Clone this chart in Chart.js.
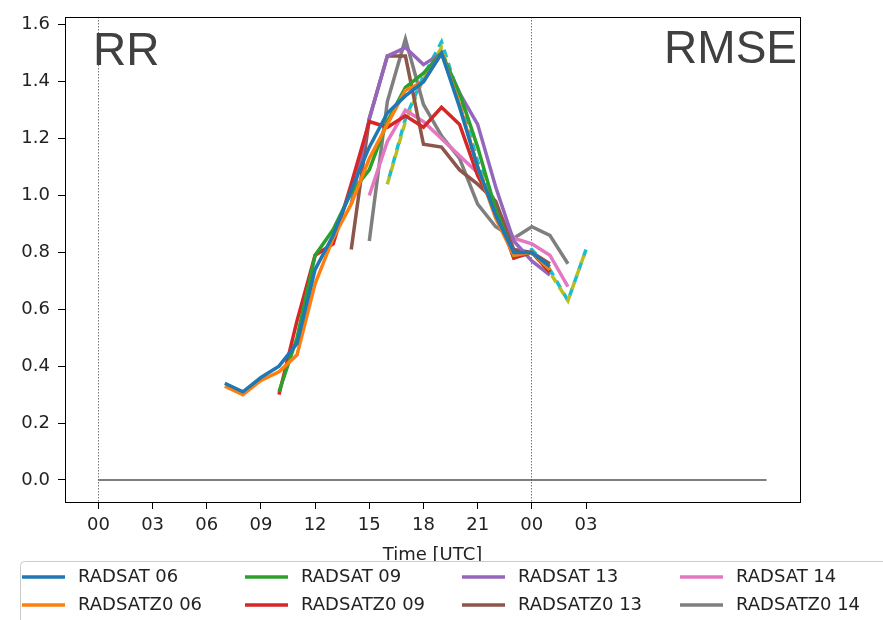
<!DOCTYPE html>
<html>
<head>
<meta charset="utf-8">
<script src="https://cdn.jsdelivr.net/npm/chart.js@4.4.0/dist/chart.umd.min.js"></script>
<style>
body { margin: 0; background: #fff; }
</style>
</head>
<body>
<canvas id="myChart" width="883" height="620"></canvas>
<script>
// hourly RMSE values, hour 0 = 00 UTC of the first day
var hours06 = [7, 8, 9, 10, 11, 12, 13, 14, 15, 16, 17, 18, 19, 20, 21, 22, 23, 24, 25];
var radsat06 = [0.34, 0.31, 0.36, 0.40, 0.48, 0.74, 0.86, 1.02, 1.17, 1.29, 1.35, 1.40, 1.50, 1.31, 1.10, 0.93, 0.80, 0.80, 0.75];
var radsatz006 = [0.33, 0.30, 0.35, 0.38, 0.44, 0.69, 0.85, 0.97, 1.13, 1.25, 1.37, 1.40, 1.50, 1.32, 1.10, 0.92, 0.79, 0.80, 0.74];

var hours09 = [10, 11, 12, 13, 14, 15, 16, 17, 18, 19, 20, 21, 22, 23, 24, 25];
var radsat09 = [0.31, 0.50, 0.79, 0.88, 1.01, 1.09, 1.26, 1.38, 1.43, 1.50, 1.36, 1.17, 0.95, 0.79, 0.80, 0.74];
var radsatz009 = [0.30, 0.56, 0.79, 0.83, 1.04, 1.26, 1.24, 1.28, 1.24, 1.31, 1.25, 1.07, 0.95, 0.78, 0.80, 0.73];

var hours13 = [14, 15, 16, 17, 18, 19, 20, 21, 22, 23, 24, 25];
var radsat13 = [0.97, 1.27, 1.49, 1.52, 1.46, 1.50, 1.36, 1.25, 1.03, 0.84, 0.77, 0.72];
var radsatz013 = [0.81, 1.27, 1.49, 1.49, 1.18, 1.17, 1.09, 1.04, 0.98, 0.81, 0.80, 0.76];

var hours14 = [15, 16, 17, 18, 19, 20, 21, 22, 23, 24, 25, 26];
var radsat14 = [1.00, 1.19, 1.30, 1.26, 1.20, 1.14, 1.08, 0.96, 0.85, 0.83, 0.79, 0.68];
var radsatz014 = [0.84, 1.33, 1.55, 1.32, 1.21, 1.13, 0.97, 0.89, 0.85, 0.89, 0.86, 0.76];

var hoursExtra = [16, 17, 18, 19, 20, 21, 22, 23, 24, 25, 26, 27];
var extraA = [1.04, 1.26, 1.41, 1.52, 1.32, 1.10, 0.96, 0.78, 0.80, 0.73, 0.63, 0.81];
var extraB = [1.04, 1.27, 1.42, 1.54, 1.34, 1.12, 0.97, 0.78, 0.81, 0.74, 0.63, 0.81];

var zeroHours = [0, 37];
var zeroValues = [0, 0];

var xTickHours = [0, 3, 6, 9, 12, 15, 18, 21, 24, 27];
var xTickLabels = ['00', '03', '06', '09', '12', '15', '18', '21', '00', '03'];
var yTicks = [0, 0.2, 0.4, 0.6, 0.8, 1.0, 1.2, 1.4, 1.6];

var legendCols = [22, 245, 462, 680];
var legendRows = [577, 605];

function pts(xs, ys) {
  return xs.map(function(x, i) { return {x: x, y: ys[i]}; });
}

function line(label, xs, ys, color, dash, offset) {
  return {
    label: label,
    data: pts(xs, ys),
    borderColor: color,
    backgroundColor: color,
    borderWidth: 3.5,
    borderDash: dash || [],
    borderDashOffset: offset || 0,
    pointRadius: 0,
    tension: 0,
    fill: false
  };
}

var datasets = [
  line('RADSAT 06', hours06, radsat06, '#1f77b4'),
  line('RADSATZ0 06', hours06, radsatz006, '#ff7f0e'),
  line('RADSAT 09', hours09, radsat09, '#2ca02c'),
  line('RADSATZ0 09', hours09, radsatz009, '#d62728'),
  line('RADSAT 13', hours13, radsat13, '#9467bd'),
  line('RADSATZ0 13', hours13, radsatz013, '#8c564b'),
  line('RADSAT 14', hours14, radsat14, '#e377c2'),
  line('RADSATZ0 14', hours14, radsatz014, '#7f7f7f'),
  line('', hoursExtra, extraA, '#bcbd22', [8, 6], 0),
  line('', hoursExtra, extraB, '#17becf', [8, 6], 7)
];
var zero = line('', zeroHours, zeroValues, '#555555');
zero.borderWidth = 1.5;
datasets.push(zero);

// frame, legend and panel labels
var extras = {
  id: 'extras',
  afterDraw: function(chart) {
    var ctx = chart.ctx;
    var a = chart.chartArea;
    ctx.save();
    ctx.strokeStyle = '#000';
    ctx.lineWidth = 1;
    ctx.strokeRect(Math.round(a.left) + 0.5, Math.round(a.top) + 0.5, Math.round(a.right - a.left), Math.round(a.bottom - a.top));

    ctx.fillStyle = '#fff';
    ctx.strokeStyle = '#cccccc';
    ctx.beginPath();
    if (ctx.roundRect) ctx.roundRect(20.5, 561.5, 900, 80, 4);
    else ctx.rect(20.5, 561.5, 900, 80);
    ctx.fill();
    ctx.stroke();

    var items = chart.data.datasets.filter(function(d) { return d.label; });
    ctx.font = '18px "DejaVu Sans"';
    ctx.textBaseline = 'middle';
    ctx.textAlign = 'left';
    items.forEach(function(ds, i) {
      var x = legendCols[Math.floor(i / 2)];
      var y = legendRows[i % 2];
      ctx.strokeStyle = ds.borderColor;
      ctx.lineWidth = 3.5;
      ctx.beginPath();
      ctx.moveTo(x, y);
      ctx.lineTo(x + 43, y);
      ctx.stroke();
      ctx.fillStyle = '#222';
      ctx.fillText(ds.label, x + 56, y);
    });

    ctx.font = '46px "Liberation Sans"';
    ctx.fillStyle = '#404040';
    ctx.textBaseline = 'alphabetic';
    ctx.fillText('RR', 93, 65);
    ctx.textAlign = 'right';
    ctx.fillText('RMSE', 797, 63);
    ctx.restore();
  }
};

Chart.defaults.font.family = '"DejaVu Sans"';
Chart.defaults.font.size = 18;
Chart.defaults.color = '#222';

var ctx = document.getElementById('myChart').getContext('2d');
var myChart = new Chart(ctx, {
  type: 'line',
  data: { datasets: datasets },
  options: {
    responsive: false,
    animation: false,
    layout: { padding: { left: 0, top: 9, right: 83, bottom: 50 } },
    plugins: { legend: { display: false }, tooltip: { enabled: false } },
    scales: {
      x: {
        type: 'linear',
        min: -1.85,
        max: 38.85,
        afterBuildTicks: function(scale) {
          scale.ticks = xTickHours.map(function(v) { return {value: v}; });
        },
        afterFit: function(scale) { scale.height = 68; },
        ticks: {
          autoSkip: false,
          maxRotation: 0,
          padding: 6,
          callback: function(v, i) { return xTickLabels[i]; }
        },
        grid: {
          drawOnChartArea: true,
          color: function(c) {
            return (c.tick && (c.tick.value === 0 || c.tick.value === 24)) ? '#777' : 'rgba(0,0,0,0)';
          },
          lineWidth: 1,
          tickColor: '#000',
          tickLength: 7
        },
        border: { color: '#000', width: 1, dash: [1.5, 1.5] },
        title: { display: true, text: 'Time [UTC]', color: '#222', font: { size: 18 } }
      },
      y: {
        min: -0.0775,
        max: 1.6275,
        afterBuildTicks: function(scale) {
          scale.ticks = yTicks.map(function(v) { return {value: v}; });
        },
        afterFit: function(scale) { scale.width = 65; },
        ticks: {
          padding: 8,
          font: { lineHeight: 1 },
          callback: function(v) { return v.toFixed(1); }
        },
        grid: {
          drawOnChartArea: false,
          tickColor: '#000',
          tickLength: 7
        },
        border: { color: '#000', width: 1 }
      }
    }
  },
  plugins: [extras]
});
</script>
</body>
</html>
